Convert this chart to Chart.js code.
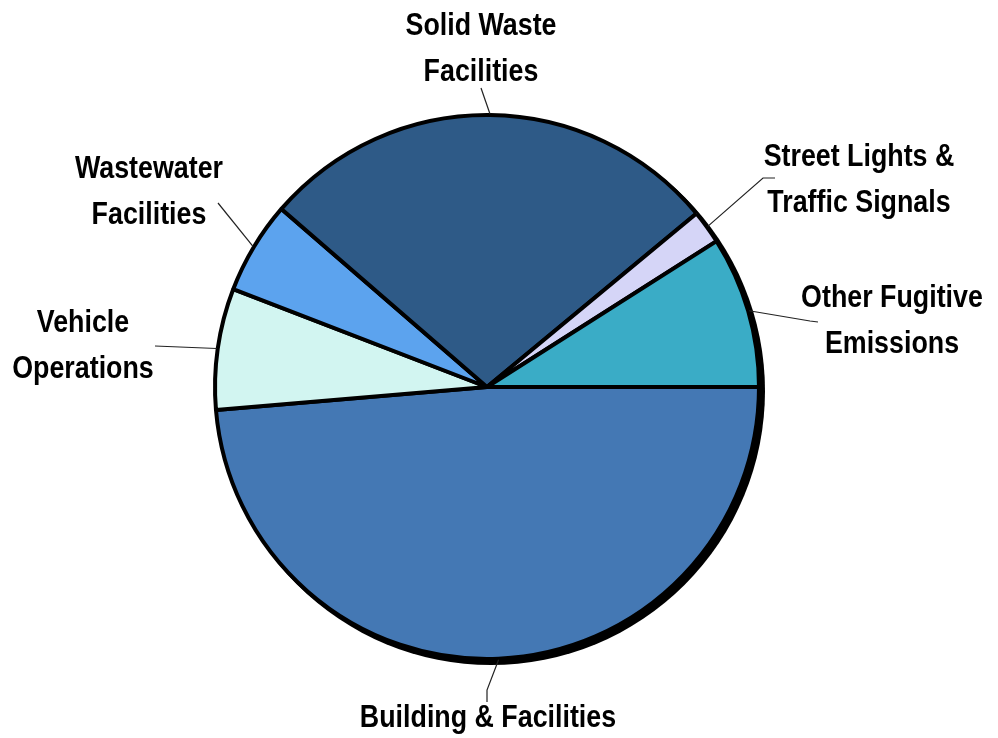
<!DOCTYPE html>
<html>
<head>
<meta charset="utf-8">
<script src="https://cdn.jsdelivr.net/npm/chart.js@4"></script>
<style>
  html, body { margin: 0; padding: 0; background: #ffffff; }
  canvas { display: block; }
</style>
</head>
<body>
<canvas id="c" width="998" height="738"></canvas>
<script>
// ---- data ----
const categories = [
  'Building & Facilities',
  'Vehicle Operations',
  'Wastewater Facilities',
  'Solid Waste Facilities',
  'Street Lights & Traffic Signals',
  'Other Fugitive Emissions'
];
const values = [48.6, 7.2, 5.5, 27.6, 2.0, 9.0];
const labelLines = [
  ['Building & Facilities'],
  ['Vehicle', 'Operations'],
  ['Wastewater', 'Facilities'],
  ['Solid Waste', 'Facilities'],
  ['Street Lights &', 'Traffic Signals'],
  ['Other Fugitive', 'Emissions']
];

// ---- styles / layout ----
const colors = ['#4478B4', '#D2F5F1', '#5CA3EE', '#2E5A87', '#D5D5F7', '#3AACC6'];
const FONT = "bold 31px 'Liberation Sans', Arial, sans-serif";
const X_SCALE = 0.865;   // condensed look
const LINE_H = 46;
// text centre x, first baseline y, leader polyline points after the arc anchor
const labelLayout = [
  { x: 488, y: 727, pts: [[487, 690], [487, 702]] },
  { x: 83,  y: 332, pts: [[155, 346]] },
  { x: 149, y: 178, pts: [[218, 203]] },
  { x: 481, y: 35,  pts: [[481, 88]] },
  { x: 859, y: 166, pts: [[763, 178], [775, 178]] },
  { x: 892, y: 307, pts: [[810, 321], [818, 322]] }
];

const shadowPlugin = {
  id: 'shadow',
  beforeDatasetsDraw(chart) {
    const arc = chart.getDatasetMeta(0).data[0];
    if (!arc) return;
    const ctx = chart.ctx;
    const bw = chart.data.datasets[0].borderWidth;
    ctx.save();
    ctx.fillStyle = '#000';
    ctx.beginPath();
    ctx.arc(arc.x + 4, arc.y + 4, arc.outerRadius + bw / 2, 0, Math.PI * 2);
    ctx.fill();
    ctx.restore();
  }
};

const labelPlugin = {
  id: 'leaderLabels',
  afterDatasetsDraw(chart) {
    const ctx = chart.ctx;
    const meta = chart.getDatasetMeta(0);
    ctx.save();
    meta.data.forEach((arc, i) => {
      const p = arc.getProps(['x', 'y', 'startAngle', 'endAngle', 'outerRadius'], true);
      const mid = (p.startAngle + p.endAngle) / 2;
      const ax = p.x + Math.cos(mid) * (p.outerRadius + 1);
      const ay = p.y + Math.sin(mid) * (p.outerRadius + 1);
      const L = labelLayout[i];
      ctx.strokeStyle = '#222';
      ctx.lineWidth = 1.2;
      ctx.beginPath();
      ctx.moveTo(ax, ay);
      L.pts.forEach(pt => ctx.lineTo(pt[0], pt[1]));
      ctx.stroke();
      ctx.fillStyle = '#000';
      ctx.font = FONT;
      ctx.textAlign = 'center';
      ctx.textBaseline = 'alphabetic';
      labelLines[i].forEach((t, k) => {
        ctx.save();
        ctx.translate(L.x, L.y + k * LINE_H);
        ctx.scale(X_SCALE, 1);
        ctx.fillText(t, 0, 0);
        ctx.restore();
      });
    });
    ctx.restore();
  }
};

new Chart(document.getElementById('c'), {
  type: 'pie',
  data: {
    labels: categories,
    datasets: [{
      data: values,
      backgroundColor: colors,
      borderColor: '#000000',
      borderWidth: 4
    }]
  },
  options: {
    responsive: false,
    animation: false,
    rotation: 90,
    radius: 272,
    layout: { padding: { left: 213, right: 237, top: 113, bottom: 77 } },
    plugins: {
      legend: { display: false },
      tooltip: { enabled: false }
    }
  },
  plugins: [shadowPlugin, labelPlugin]
});
</script>
</body>
</html>
